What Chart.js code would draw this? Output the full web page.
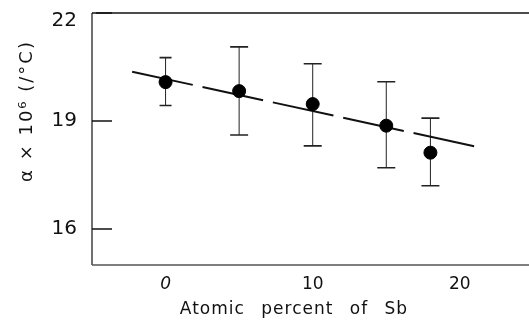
<!DOCTYPE html>
<html>
<head>
<meta charset="utf-8">
<title>Thermal expansion vs Sb content</title>
<script src="https://cdn.jsdelivr.net/npm/chart.js@4.4.1/dist/chart.umd.min.js"></script>
<style>
  body { margin: 0; background: #fff; }
  #wrap { width: 529px; height: 328px; }
</style>
</head>
<body>
<div id="wrap"><canvas id="expansionChart" width="529" height="328"></canvas></div>
<script>
// values
const sbPercent = [0, 5, 10, 15, 18];
const alphaValues = [20.08, 19.83, 19.47, 18.87, 18.12];
const errUpper = [20.76, 21.06, 20.59, 20.09, 19.08];
const errLower = [19.43, 18.61, 18.31, 17.70, 17.20];

// dashed fit line, end points
const fitX = [-2.27, 21.29];
const fitY = [20.37, 18.27];

const xTicks = [0, 10, 20];
const yTicks = [16, 19, 22];
const xTitle = 'Atomic percent of Sb';
const yTitle = 'α × 10⁶ (/°C)';

const FONT = "'DejaVu Sans', sans-serif";
const Y_MAX = 22;

// keep the plot box where the scan has it
function noPadding(scale) {
    scale.paddingTop = 0;
    scale.paddingBottom = 0;
    scale.paddingLeft = 0;
    scale.paddingRight = 0;
}

/**
 * Frame, inward y ticks and error bars (drawn under the points)
 */
const framePlugin = {
    id: 'framePlugin',
    beforeDatasetsDraw(chart) {
        const { ctx, chartArea: a, scales: { x, y } } = chart;
        ctx.save();

        // top line
        ctx.strokeStyle = '#111';
        ctx.lineWidth = 1.5;
        ctx.beginPath();
        ctx.moveTo(a.left + 4, a.top);
        ctx.lineTo(a.right, a.top);
        ctx.stroke();

        // left line
        ctx.lineWidth = 1.2;
        ctx.beginPath();
        ctx.moveTo(a.left, a.top);
        ctx.lineTo(a.left, a.bottom);
        ctx.stroke();

        // bottom line, a bit grey in the scan
        ctx.strokeStyle = '#555';
        ctx.lineWidth = 1.5;
        ctx.beginPath();
        ctx.moveTo(a.left, a.bottom);
        ctx.lineTo(a.right, a.bottom);
        ctx.stroke();

        // ticks pointing into the plot
        ctx.strokeStyle = '#111';
        ctx.lineWidth = 1.5;
        yTicks.forEach(v => {
            const py = y.getPixelForValue(v);
            ctx.beginPath();
            ctx.moveTo(a.left, py);
            ctx.lineTo(a.left + 20, py);
            ctx.stroke();
        });

        // error bars
        ctx.strokeStyle = '#222';
        sbPercent.forEach((v, i) => {
            const px = x.getPixelForValue(v);
            const top = y.getPixelForValue(errUpper[i]);
            const bot = y.getPixelForValue(errLower[i]);
            ctx.lineWidth = 1;
            ctx.beginPath();
            ctx.moveTo(px, top);
            ctx.lineTo(px, bot);
            ctx.stroke();
            ctx.lineWidth = 1.6;
            const half = i === 0 ? 6 : 9;
            ctx.beginPath();
            ctx.moveTo(px - half, top);
            ctx.lineTo(px + half, top);
            ctx.moveTo(px - half, bot);
            ctx.lineTo(px + half, bot);
            ctx.stroke();
        });
        ctx.restore();
    },
    afterDraw(chart) {
        const ctx = chart.ctx;
        ctx.save();
        ctx.fillStyle = '#111';
        ctx.textAlign = 'center';
        ctx.textBaseline = 'middle';

        // x title
        ctx.font = '17px ' + FONT;
        ctx.letterSpacing = '1px';
        ctx.wordSpacing = '10px';
        ctx.fillText(xTitle, 294, 310);

        // y title, rotated
        ctx.font = '18px ' + FONT;
        ctx.letterSpacing = '2px';
        ctx.wordSpacing = '0px';
        ctx.translate(27, 111);
        ctx.rotate(-Math.PI / 2);
        ctx.fillText(yTitle, 0, 0);
        ctx.restore();
    }
};

function createChart() {
    const ctx = document.getElementById('expansionChart');

    new Chart(ctx.getContext('2d'), {
        type: 'scatter',
        data: {
            datasets: [
                {
                    type: 'line',
                    label: 'fit',
                    data: fitX.map((v, i) => ({ x: v, y: fitY[i] })),
                    borderColor: '#111',
                    borderWidth: 2,
                    borderDash: [62, 10],
                    pointRadius: 0,
                    fill: false,
                    order: 2
                },
                {
                    label: 'measured',
                    data: sbPercent.map((v, i) => ({ x: v, y: alphaValues[i] })),
                    backgroundColor: '#000',
                    borderColor: '#000',
                    pointRadius: 6.5,
                    order: 1
                }
            ]
        },
        options: {
            responsive: false,
            animation: false,
            events: [],
            layout: { autoPadding: false, padding: { top: 13, right: 0, bottom: 0, left: 0 } },
            plugins: {
                legend: { display: false },
                tooltip: { enabled: false }
            },
            scales: {
                x: {
                    type: 'linear',
                    min: -5,
                    max: 24.7,
                    afterBuildTicks: (scale) => { scale.ticks = xTicks.map(v => ({ value: v })); },
                    afterFit: (scale) => { scale.height = 63; noPadding(scale); },
                    grid: { display: false, drawTicks: false },
                    border: { display: false },
                    ticks: {
                        padding: 9,
                        color: '#111',
                        font: (c) => ({
                            family: FONT,
                            size: 17,
                            style: c.tick && c.tick.value === 0 ? 'italic' : 'normal'
                        }),
                        callback: (v) => String(v)
                    }
                },
                y: {
                    type: 'linear',
                    min: 15,
                    max: Y_MAX,
                    afterBuildTicks: (scale) => { scale.ticks = yTicks.map(v => ({ value: v })); },
                    afterFit: (scale) => { scale.width = 92; noPadding(scale); },
                    grid: { display: false, drawTicks: false },
                    border: { display: false },
                    ticks: {
                        padding: 15,
                        color: '#111',
                        // the top label sits a little below its tick in the scan
                        font: (c) => ({
                            family: FONT,
                            size: 20,
                            lineHeight: c.tick && c.tick.value === Y_MAX ? '16px' : 1.2
                        }),
                        callback: (v) => v === Y_MAX ? ['', String(v)] : String(v)
                    }
                }
            }
        },
        plugins: [framePlugin]
    });
}

createChart();
</script>
</body>
</html>
